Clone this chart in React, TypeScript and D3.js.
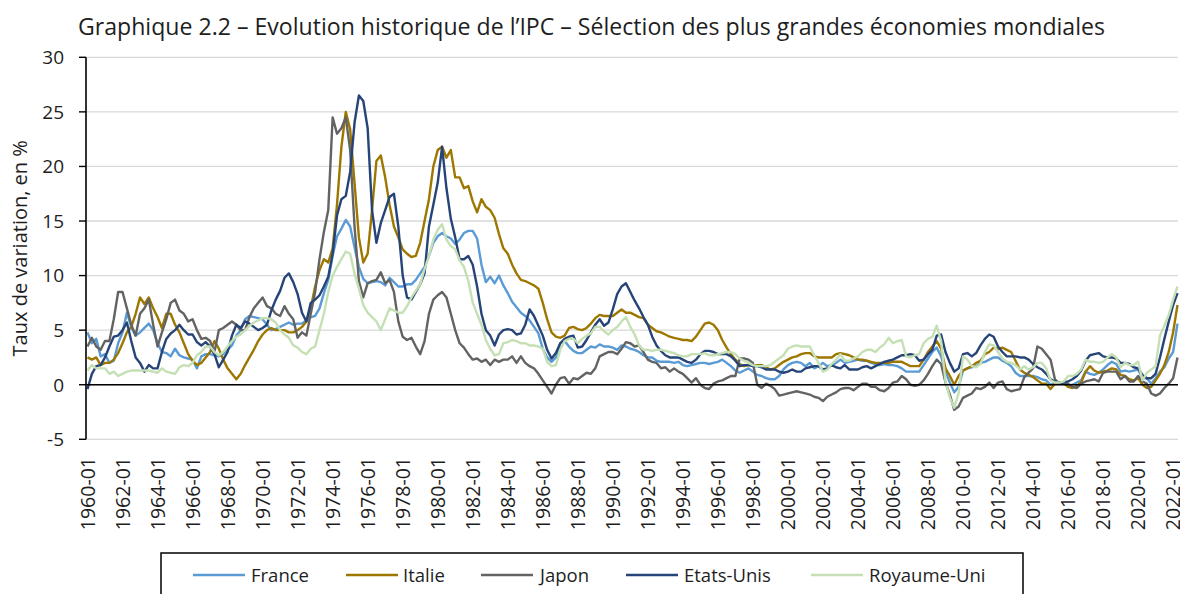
import React from "react";
import * as d3 from "d3";

// quarterly readings (Jan, Apr, Jul, Oct) from 1960-01 to 2022-04
const startYear = 1960;

const france = [
  4.8, 3.8, 4.2, 2.6, 2.8, 2.0, 2.2, 3.8, 4.8, 6.6, 5.3, 4.5, 4.8, 5.2, 5.6, 5.0,
  3.8, 3.0, 2.9, 2.6, 3.3, 2.7, 2.5, 2.4, 2.3, 1.5, 2.6, 2.8, 2.8, 2.7, 2.6, 2.8,
  3.2, 3.6, 4.5, 5.0, 6.0, 6.3, 6.2, 6.1, 6.0, 5.5, 5.0, 5.1, 5.3, 5.5, 5.7, 5.5,
  5.6, 5.6, 5.9, 6.2, 6.3, 7.0, 8.4, 9.6, 11.8, 13.6, 14.3, 15.1, 14.5, 12.6, 10.8, 9.7,
  9.3, 9.4, 9.5, 9.4, 9.1, 9.8, 9.4, 9.0, 9.0, 9.2, 9.2, 9.6, 10.2, 10.8, 11.8, 13.0,
  13.6, 13.9, 13.6, 13.4, 12.9, 13.3, 13.9, 14.1, 14.1, 13.4, 11.0, 9.4, 9.9, 9.3, 10.0, 9.1,
  8.4, 7.6, 7.1, 6.6, 6.3, 5.9, 5.3, 4.7, 3.3, 2.5, 2.1, 2.5, 3.8, 4.0, 3.5, 3.1,
  2.9, 2.9, 3.2, 3.5, 3.4, 3.7, 3.5, 3.5, 3.4, 3.2, 3.6, 3.5, 3.3, 3.2, 3.0, 2.7,
  2.5, 2.5, 2.2, 2.1, 2.1, 2.1, 2.0, 2.1, 1.8, 1.7, 1.8, 1.9, 2.0, 2.0, 1.9, 2.0,
  2.1, 2.3, 2.0, 1.7, 1.3, 1.1, 1.3, 1.5, 1.2, 0.9, 0.8, 0.6, 0.5, 0.5, 0.8, 1.4,
  1.8, 2.0, 2.1, 2.0, 1.7, 2.0, 1.5, 1.7, 2.0, 1.7, 1.8, 2.0, 2.3, 2.0, 2.1, 2.2,
  2.3, 2.2, 2.2, 2.0, 1.9, 1.8, 1.9, 1.8, 1.8, 1.7, 1.5, 1.2, 1.2, 1.2, 1.2, 1.8,
  2.4, 3.0, 3.4, 2.6, 1.2, 0.2, -0.7, -0.2, 1.3, 1.5, 1.6, 1.7, 2.0, 2.1, 2.3, 2.5,
  2.5, 2.2, 2.0, 1.7, 1.1, 0.8, 0.8, 0.8, 0.8, 0.7, 0.5, 0.4, 0.0, 0.2, 0.1, 0.1,
  -0.1, 0.0, 0.2, 0.4, 1.2, 1.0, 0.9, 1.1, 1.4, 1.8, 2.1, 1.9, 1.2, 1.3, 1.2, 1.3,
  1.4, 0.6, 0.6, 0.1, 0.6, 1.2, 1.6, 2.4, 3.0, 5.6,
];

const italie = [
  2.5, 2.3, 2.5, 1.8, 2.0, 2.0, 2.3, 2.9, 3.8, 4.8, 5.3, 6.5, 8.0, 7.4, 8.0, 7.0,
  6.2, 5.2, 6.5, 6.5, 5.5, 4.8, 3.8, 2.8, 2.2, 1.8, 2.0, 2.5, 3.0, 4.0, 3.3, 2.3,
  1.5, 1.0, 0.5, 1.0, 1.8, 2.5, 3.2, 4.0, 4.6, 5.0, 5.2, 5.0, 5.0, 5.0, 4.8, 4.8,
  5.0, 5.3, 5.8, 7.0, 9.0, 10.5, 11.5, 11.2, 12.5, 16.5, 21.8, 25.0, 23.4, 18.5, 13.5, 11.2,
  12.0, 16.0, 20.5, 21.0, 19.0, 16.5, 14.5, 13.5, 12.4, 12.0, 11.7, 11.8, 13.0, 15.0, 17.0, 20.0,
  21.5, 21.8, 20.8, 21.5, 19.0, 19.0, 18.0, 18.2, 16.8, 15.8, 17.0, 16.3, 16.0, 15.3, 13.8, 12.5,
  12.0, 11.0, 10.2, 9.6, 9.5, 9.3, 9.1, 8.8, 7.5, 6.0, 4.8, 4.4, 4.3, 4.5, 5.2, 5.3,
  5.1, 5.0, 5.2, 5.6, 6.1, 6.4, 6.3, 6.3, 6.3, 6.6, 6.9, 6.6, 6.6, 6.4, 6.2, 6.1,
  5.5, 5.2, 4.9, 4.8, 4.6, 4.4, 4.3, 4.2, 4.1, 4.1, 4.0, 4.4, 5.0, 5.6, 5.7, 5.5,
  5.0, 4.1, 3.4, 2.8, 2.3, 1.9, 1.7, 1.8, 1.8, 1.8, 1.8, 1.6, 1.4, 1.5, 1.8, 2.1,
  2.3, 2.5, 2.6, 2.8, 2.9, 2.9, 2.6, 2.5, 2.5, 2.5, 2.5, 2.8, 2.9, 2.8, 2.7, 2.5,
  2.3, 2.3, 2.2, 2.1, 2.0, 2.0, 2.0, 2.0, 2.1, 2.1, 2.1, 1.9, 1.7, 1.7, 1.7, 2.3,
  3.0, 3.5, 4.0, 3.3, 1.5, 0.8, 0.0, 0.8, 1.3, 1.5, 1.7, 2.0, 2.2, 2.8, 3.0, 3.4,
  3.3, 3.4, 3.2, 3.0, 2.2, 1.4, 1.1, 0.9, 0.7, 0.4, 0.1, 0.1, -0.4, 0.1, 0.2, 0.2,
  -0.2, -0.3, -0.1, 0.2, 1.2, 1.7, 1.3, 1.1, 1.2, 1.3, 1.5, 1.4, 0.9, 0.8, 0.5, 0.4,
  0.6, 0.0, -0.3, -0.2, 0.4, 1.0, 1.8, 3.0, 4.8, 7.3,
];

const japon = [
  3.5, 4.3, 3.5, 3.2, 4.0, 4.0, 6.0, 8.5, 8.5, 7.0, 5.5, 4.5, 6.5, 7.0, 7.8, 5.5,
  3.5, 4.8, 6.0, 7.5, 7.8, 6.8, 6.5, 5.8, 6.0, 5.0, 4.2, 4.3, 4.0, 3.0, 5.0, 5.2,
  5.5, 5.8, 5.5, 5.0, 5.0, 6.2, 7.0, 7.5, 8.0, 7.2, 7.0, 6.5, 6.3, 7.2, 6.5, 6.0,
  4.3, 4.8, 4.5, 6.5, 8.5, 11.5, 14.0, 16.0, 24.5, 23.0, 23.5, 24.5, 21.5, 14.5, 9.5, 8.0,
  9.3, 9.5, 9.6, 10.3, 9.3, 9.6, 8.5, 5.8, 4.4, 4.1, 4.3, 3.5, 2.8, 4.0, 6.5, 7.8,
  8.2, 8.5, 8.0, 6.5, 5.0, 3.8, 3.4, 2.8, 2.3, 2.4, 2.1, 2.3, 1.8, 2.3, 2.1, 2.3,
  2.3, 2.6, 2.0, 2.6, 2.0, 1.7, 1.5, 1.0, 0.4, -0.2, -0.8, 0.0, 0.6, 0.7, 0.1, 0.6,
  0.5, 0.8, 1.1, 1.0, 1.5, 2.6, 2.8, 3.0, 3.0, 2.8, 3.3, 3.9, 3.8, 3.5, 3.6, 3.0,
  2.3, 2.1, 2.0, 1.5, 1.6, 1.2, 1.5, 1.2, 1.0, 0.6, 0.2, 0.6, 0.0, -0.3, -0.4, 0.1,
  0.3, 0.4, 0.6, 0.8, 0.8, 2.4, 2.4, 2.3, 2.0, 0.0, -0.3, 0.1, -0.1, -0.4, -1.0, -0.9,
  -0.8, -0.7, -0.6, -0.7, -0.8, -0.9, -1.1, -1.2, -1.5, -1.1, -0.9, -0.7, -0.4, -0.3, -0.3, -0.5,
  -0.2, 0.1, 0.1, -0.2, -0.2, -0.5, -0.6, -0.3, 0.2, 0.3, 0.8, 0.5, 0.0, -0.1, 0.0, 0.4,
  1.0, 1.7, 2.3, 1.9, 0.2, -0.9, -2.3, -2.0, -1.2, -1.0, -0.8, -0.3, -0.4, -0.2, 0.2, -0.3,
  0.2, 0.3, -0.4, -0.6, -0.5, -0.4, 0.7, 1.1, 1.5, 3.5, 3.3, 2.8, 2.3, 0.5, 0.1, 0.2,
  0.1, -0.2, -0.3, 0.1, 0.3, 0.4, 0.5, 0.3, 1.1, 1.2, 1.2, 1.2, 0.5, 0.8, 0.3, 0.3,
  0.8, 0.3, 0.1, -0.8, -1.0, -0.8, -0.3, 0.1, 0.6, 2.5,
];

const etatsUnis = [
  -0.4, 1.0, 1.7, 1.8, 2.5, 3.5, 4.4, 4.5, 5.0, 5.7, 4.0, 2.5, 2.0, 1.2, 1.8, 1.5,
  1.5, 3.0, 4.2, 4.7, 5.0, 5.5, 5.0, 4.6, 4.6, 3.9, 3.6, 3.9, 3.5, 2.8, 1.6, 2.3,
  3.0, 4.5, 5.5, 5.2, 5.8, 5.6, 5.3, 5.0, 5.2, 5.5, 6.8, 7.8, 8.6, 9.8, 10.2, 9.4,
  8.3, 6.6, 5.8, 7.5, 7.8, 8.2, 9.0, 9.9, 12.0, 15.5, 17.0, 17.3, 19.5, 24.0, 26.5, 26.0,
  23.5, 16.0, 13.0, 14.8, 16.0, 17.2, 17.5, 14.5, 10.0, 8.0, 7.8, 8.5, 9.2, 10.2, 14.5, 16.5,
  18.5, 21.8, 18.0, 15.2, 13.5, 11.5, 11.5, 11.8, 11.0, 9.0, 6.5, 5.0, 4.5, 3.6, 4.6, 5.0,
  5.1, 5.0, 4.6, 4.7, 5.5, 6.9, 6.3, 5.4, 4.5, 3.2, 2.4, 2.9, 3.8, 4.2, 4.4, 4.5,
  3.4, 3.5, 4.1, 4.8, 5.5, 6.0, 5.4, 5.7, 6.9, 8.3, 9.0, 9.3, 8.5, 7.7, 7.0, 6.2,
  5.5, 4.4, 3.6, 3.1, 2.7, 2.5, 2.5, 2.5, 2.3, 2.1, 2.0, 2.3, 2.8, 3.1, 3.1, 3.0,
  2.8, 2.8, 2.8, 2.6, 2.2, 1.7, 1.8, 1.8, 1.7, 1.7, 1.6, 1.4, 1.4, 1.4, 1.2, 1.1,
  1.2, 1.4, 1.2, 1.2, 1.5, 1.6, 1.7, 1.7, 1.4, 1.5, 1.8, 1.6, 1.5, 1.8, 1.4, 1.4,
  1.4, 1.6, 1.7, 1.5, 1.7, 1.9, 2.1, 2.2, 2.3, 2.5, 2.7, 2.7, 2.8, 2.7, 2.2, 2.3,
  2.8, 3.2, 4.5, 4.6, 3.0, 2.0, 1.2, 1.5, 2.8, 2.9, 2.6, 2.9, 3.6, 4.2, 4.6, 4.4,
  3.5, 3.0, 2.6, 2.6, 2.6, 2.5, 2.5, 2.3, 1.9, 1.6, 1.4, 1.0, 0.5, 0.3, 0.2, 0.2,
  0.3, 0.5, 0.8, 1.3, 2.2, 2.7, 2.8, 2.9, 2.6, 2.5, 2.5, 2.4, 2.0, 2.0, 1.9, 1.6,
  1.5, 0.9, 0.6, 0.6, 1.0, 2.5, 4.2, 5.8, 7.3, 8.4,
];

const royaumeUni = [
  1.3, 1.8, 1.5, 1.5, 1.5, 1.0, 1.2, 0.8, 1.0, 1.2, 1.3, 1.3, 1.3, 1.3, 1.3, 1.2,
  1.1, 1.5, 1.2, 1.1, 1.0, 1.6, 1.8, 1.7, 2.0, 2.7, 3.0, 3.5, 3.5, 3.0, 2.7, 3.0,
  3.5, 4.0, 4.4, 4.6, 5.0, 5.4, 5.7, 5.9, 6.1, 6.1, 6.0, 5.7, 5.0, 4.6, 4.3, 3.6,
  3.4, 3.0, 2.8, 3.3, 3.5, 5.0, 6.5, 8.5, 10.0, 10.8, 11.5, 12.2, 12.0, 10.2, 8.8, 7.3,
  6.6, 6.2, 5.8, 5.0, 6.0, 7.0, 6.8, 6.6, 6.6, 7.2, 8.0, 8.6, 9.2, 10.6, 11.8, 13.3,
  14.2, 14.7, 13.3, 12.7, 12.4, 11.4, 10.8, 9.5, 7.5, 6.5, 5.5, 4.1, 3.3, 2.7, 2.8, 3.8,
  3.9, 4.1, 4.0, 3.8, 3.8, 3.6, 3.6, 3.5, 3.3, 2.1, 1.7, 1.8, 3.2, 4.0, 4.2, 4.2,
  3.8, 4.2, 4.5, 4.7, 5.3, 5.3, 4.9, 4.6, 5.0, 5.3, 5.8, 6.2, 5.3, 4.6, 3.6, 3.2,
  3.2, 3.1, 3.2, 3.2, 3.1, 3.0, 2.9, 2.7, 2.6, 2.6, 2.8, 2.8, 2.8, 2.9, 2.7, 2.7,
  2.8, 2.9, 3.0, 3.0, 2.8, 2.4, 2.2, 2.0, 1.8, 1.7, 1.7, 1.7, 1.8, 2.1, 2.4, 2.7,
  3.3, 3.5, 3.6, 3.5, 3.5, 3.5, 2.7, 2.0, 1.2, 1.4, 1.9, 2.3, 2.8, 2.2, 2.2, 2.4,
  2.6, 3.0, 3.2, 3.2, 3.0, 3.4, 3.7, 4.3, 3.8, 4.0, 4.1, 2.6, 2.5, 2.7, 2.8, 3.8,
  4.2, 4.4, 5.4, 4.0, 0.3, -1.2, -2.1, -0.8, 2.6, 2.3, 1.7, 1.6, 1.9, 3.0, 3.7, 3.6,
  3.0, 2.4, 2.1, 2.0, 1.8, 1.4, 1.7, 1.4, 1.6, 2.0, 2.0, 1.5, 0.4, 0.2, 0.2, 0.3,
  0.8, 0.8, 1.0, 1.4, 2.3, 2.1, 2.1, 2.0, 2.1, 2.5, 2.8, 2.5, 1.6, 2.0, 1.8, 1.8,
  2.1, 0.4, 1.1, 1.4, 1.7, 4.5, 5.4, 6.4, 7.8, 9.0,
];

const series = [
  { name: "France", values: france, color: "#5b9bd5" },
  { name: "Italie", values: italie, color: "#9e7700" },
  { name: "Japon", values: japon, color: "#636363" },
  { name: "Etats-Unis", values: etatsUnis, color: "#264478" },
  { name: "Royaume-Uni", values: royaumeUni, color: "#c5e0b4" },
];

const yTicks = [-5, 0, 5, 10, 15, 20, 25, 30];
const xTickYears = [
  1960, 1962, 1964, 1966, 1968, 1970, 1972, 1974, 1976, 1978, 1980, 1982, 1984, 1986, 1988, 1990,
  1992, 1994, 1996, 1998, 2000, 2002, 2004, 2006, 2008, 2010, 2012, 2014, 2016, 2018, 2020, 2022,
];

const title = "Graphique 2.2 – Evolution historique de l’IPC – Sélection des plus grandes économies mondiales";
const yTitle = "Taux de variation, en %";

const W = 1180;
const H = 594;
const font = "'Open Sans', 'Noto Sans', sans-serif";
const ink = "#1e1e1e";

export default function App() {
  const x = d3.scaleLinear().domain([1960, 2022.25]).range([87.5, 1177.5]);
  const y = d3.scaleLinear().domain([-5, 30]).range([439.3, 57.3]);
  const axisX = 86;
  const right = 1178;

  const line = d3
    .line<number>()
    .x((_, i) => x(startYear + i / 4))
    .y((d) => y(d));

  // legend positions (swatch start, label start)
  const legendItems = [
    { x1: 193, tx: 251 },
    { x1: 346, tx: 403 },
    { x1: 481, tx: 540 },
    { x1: 626, tx: 684 },
    { x1: 811, tx: 869 },
  ];

  return (
    <svg
      width={W}
      height={H}
      style={{ position: "absolute", left: 0, top: 0, background: "#fff" }}
      fontFamily={font}
    >
      <rect width={W} height={H} fill="#fff" />
      <text x={78} y={35} fontSize={23} fill={ink} textLength={1027} lengthAdjust="spacingAndGlyphs">
        {title}
      </text>

      {/* gridlines */}
      {yTicks.map((t) => (
        <line key={t} x1={axisX} x2={right} y1={y(t)} y2={y(t)} stroke="#d9d9d9" strokeWidth={1.3} />
      ))}

      {/* series */}
      {series.map((s) => (
        <path
          key={s.name}
          d={line(s.values) ?? ""}
          fill="none"
          stroke={s.color}
          strokeWidth={2.4}
          strokeLinejoin="round"
        />
      ))}

      {/* zero line and y axis */}
      <line x1={axisX} x2={right} y1={y(0)} y2={y(0)} stroke="#000" strokeWidth={1.4} />
      <line x1={axisX} x2={axisX} y1={y(30)} y2={y(-5)} stroke="#000" strokeWidth={1.6} />
      {yTicks.map((t) => (
        <g key={t}>
          <line x1={79} x2={axisX} y1={y(t)} y2={y(t)} stroke="#000" strokeWidth={1.4} />
          <text x={64} y={y(t)} dy="0.36em" textAnchor="end" fontSize={19} fill={ink}>
            {t}
          </text>
        </g>
      ))}

      <text
        transform={`translate(20,${(y(30) + y(-5)) / 2}) rotate(-90)`}
        dy="0.35em"
        textAnchor="middle"
        fontSize={20}
        fill={ink}
      >
        {yTitle}
      </text>

      {/* x labels */}
      {xTickYears.map((yr) => (
        <text
          key={yr}
          transform={`translate(${x(yr)},457) rotate(-90)`}
          textAnchor="end"
          dy="0.36em"
          fontSize={19.5}
          fill={ink}
        >
          {`${yr}-01`}
        </text>
      ))}

      {/* legend */}
      <rect x={161} y={553} width={862} height={60} fill="#fff" stroke="#000" strokeWidth={1.5} />
      {series.map((s, i) => (
        <g key={s.name}>
          <line x1={legendItems[i].x1} x2={legendItems[i].x1 + 52} y1={575} y2={575} stroke={s.color} strokeWidth={2.5} />
          <text x={legendItems[i].tx} y={582} fontSize={18.5} fill={ink}>
            {s.name}
          </text>
        </g>
      ))}
    </svg>
  );
}
